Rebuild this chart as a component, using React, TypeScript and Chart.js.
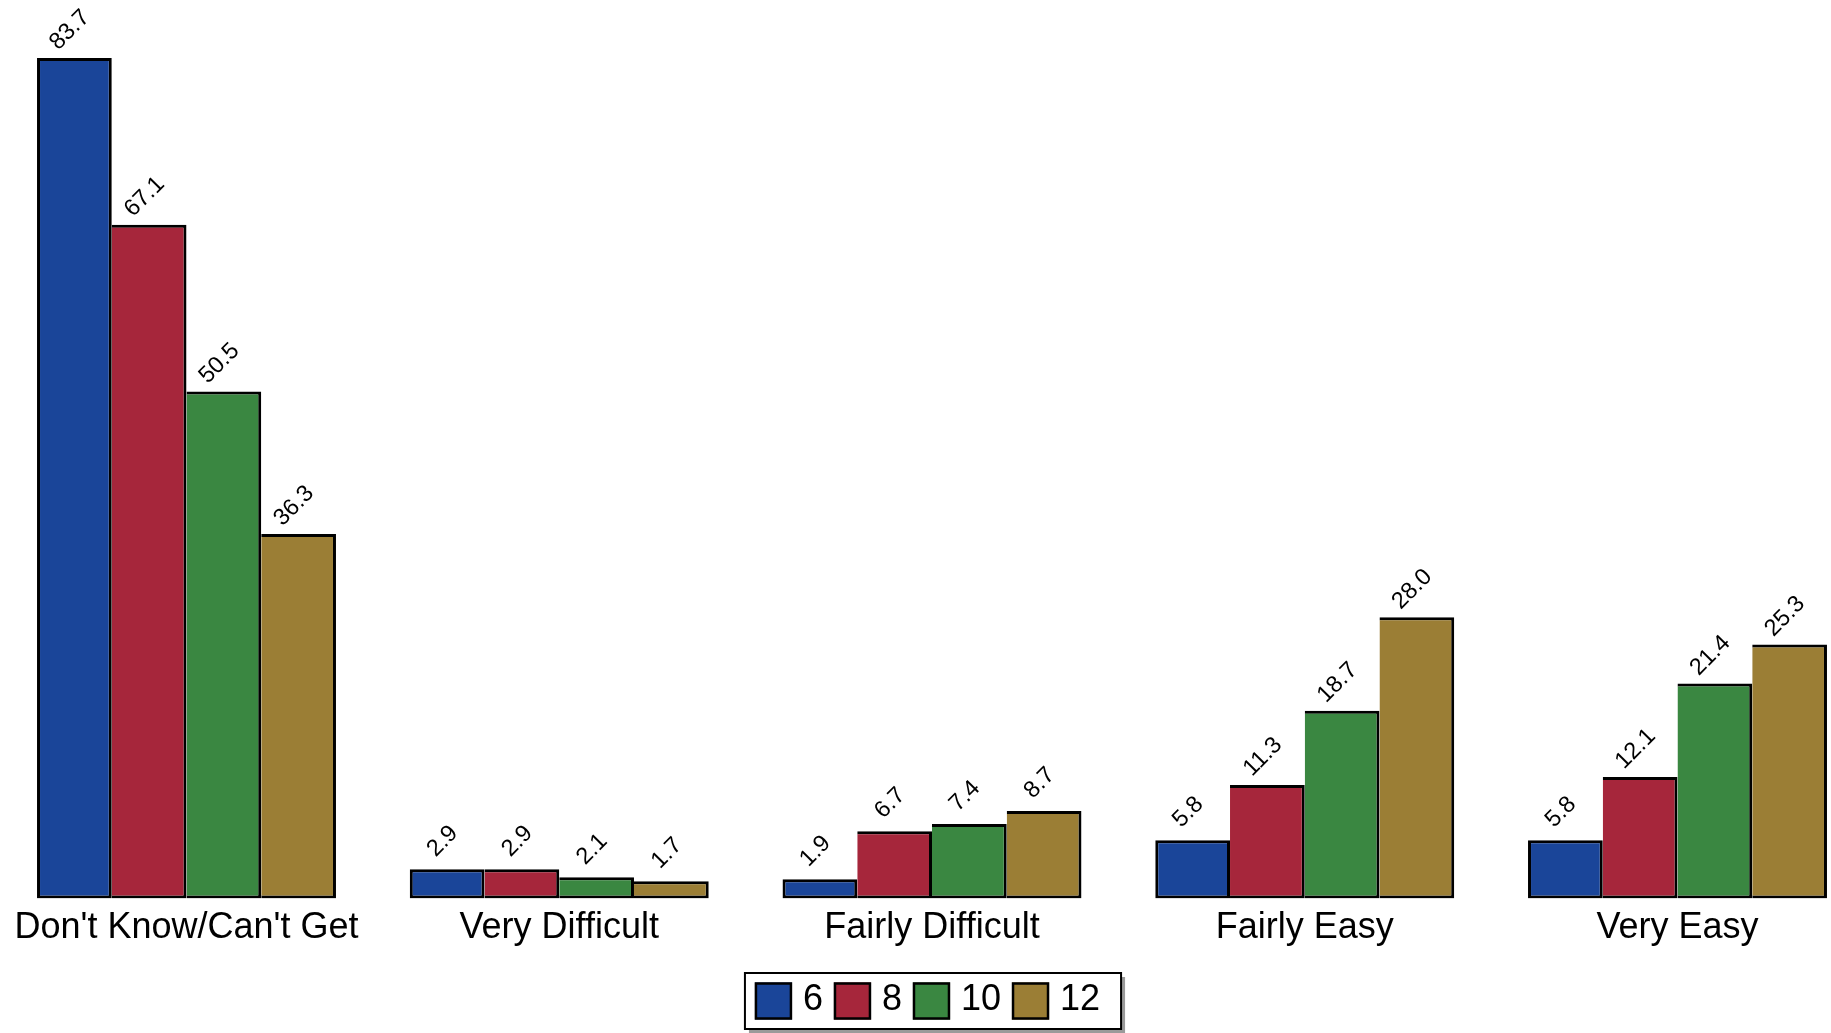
import React, { useEffect, useRef } from "react";
import { Chart, registerables } from "chart.js";

Chart.register(...registerables);

const categories = [
  "Don't Know/Can't Get",
  "Very Difficult",
  "Fairly Difficult",
  "Fairly Easy",
  "Very Easy",
];
const seriesLabels = ["6", "8", "10", "12"];
const grade6 = [83.7, 2.9, 1.9, 5.8, 5.8];
const grade8 = [67.1, 2.9, 6.7, 11.3, 12.1];
const grade10 = [50.5, 2.1, 7.4, 18.7, 21.4];
const grade12 = [36.3, 1.7, 8.7, 28.0, 25.3];
const seriesValues = [grade6, grade8, grade10, grade12];
const seriesColors = ["#1a4599", "#a6263b", "#3a8741", "#9b7e35"];

const FONT = "'Liberation Sans', Arial, Helvetica, sans-serif";
const W = 1831;
const H = 1033;

const valueLabelPlugin = {
  id: "valueLabels",
  afterDatasetsDraw(chart: any) {
    const ctx = chart.ctx;
    ctx.save();
    ctx.font = `23.5px ${FONT}`;
    ctx.fillStyle = "#000";
    ctx.textAlign = "center";
    ctx.textBaseline = "middle";
    chart.data.datasets.forEach((ds: any, i: number) => {
      const meta = chart.getDatasetMeta(i);
      meta.data.forEach((bar: any, j: number) => {
        const v = ds.data[j].y;
        ctx.save();
        ctx.translate(bar.x - 4.5, bar.y - 28);
        ctx.rotate(-Math.PI / 4);
        ctx.fillText(v.toFixed(1), 0, 0);
        ctx.restore();
      });
    });
    ctx.restore();
  },
};

const legendBoxPlugin = {
  id: "legendBox",
  afterDraw(chart: any) {
    const ctx = chart.ctx;
    const xs = chart.scales.x;
    const cx =
      (xs.getPixelForValue(0) + xs.getPixelForValue(categories.length - 1)) / 2 + 1;
    ctx.save();
    ctx.font = `36px ${FONT}`;
    const box = 37;
    const gap = 11;
    const items = chart.data.datasets.map((ds: any) => ({
      text: ds.label,
      color: ds.backgroundColor,
      w: ctx.measureText(ds.label).width,
    }));
    let content = 0;
    items.forEach((it: any, k: number) => {
      content += box + gap + it.w + (k < items.length - 1 ? gap : 0);
    });
    const fw = 10 + content + 21;
    const fh = 56;
    const left = cx - fw / 2;
    const top = chart.height - 60;
    ctx.fillStyle = "#9a9a9a";
    ctx.fillRect(left + 4, top + 4, fw, fh);
    ctx.fillStyle = "#fff";
    ctx.fillRect(left, top, fw, fh);
    ctx.lineWidth = 2;
    ctx.strokeStyle = "#000";
    ctx.strokeRect(left, top, fw, fh);
    let x = left + 10;
    const sy = top + 9.5;
    ctx.textAlign = "left";
    ctx.textBaseline = "middle";
    items.forEach((it: any) => {
      ctx.fillStyle = it.color;
      ctx.fillRect(x, sy, box, box);
      ctx.lineWidth = 2.5;
      ctx.strokeStyle = "#000";
      ctx.strokeRect(x + 1, sy + 1, box - 2, box - 2);
      x += box + gap;
      ctx.fillStyle = "#000";
      ctx.fillText(it.text, x, sy + box / 2 - 1);
      x += it.w + gap;
    });
    ctx.restore();
  },
};

export default function App() {
  const canvasRef = useRef<HTMLCanvasElement | null>(null);

  useEffect(() => {
    if (!canvasRef.current) return;
    const bw = 3;
    const chart = new Chart(canvasRef.current, {
      type: "bar",
      data: {
        datasets: seriesValues.map((vals, i) => ({
          label: seriesLabels[i],
          data: vals.map((v, j) => ({ x: j, y: v })),
          backgroundColor: seriesColors[i],
          borderColor: "#000",
          borderWidth:
            i === 0
              ? bw
              : { top: bw, right: bw, bottom: bw, left: 0 },
          borderSkipped: false,
          barPercentage: 1,
          categoryPercentage: 0.802,
        })),
      },
      options: {
        responsive: false,
        animation: false,
        events: [],
        layout: { padding: { left: 0, right: 0, top: 0, bottom: 75.4 } },
        plugins: {
          legend: { display: false },
          tooltip: { enabled: false },
        },
        scales: {
          x: {
            type: "linear",
            offset: false,
            bounds: "data",
            min: -186.5 / 372.75,
            max: -186.5 / 372.75 + W / 372.75,
            afterBuildTicks: (scale: any) => {
              scale.ticks = categories.map((_, i) => ({ value: i }));
            },
            afterFit: (scale: any) => {
              scale.paddingLeft = 0;
              scale.paddingRight = 0;
            },
            grid: { display: false, drawTicks: false, offset: false },
            border: { display: false },
            ticks: {
              autoSkip: false,
              maxRotation: 0,
              minRotation: 0,
              padding: 8,
              color: "#000",
              font: { family: FONT, size: 36 },
              callback: (value: any) => categories[Math.round(Number(value))] ?? "",
            },
          },
          y: {
            display: false,
            min: 0,
            max: 897 / 10.024,
          },
        },
      },
      plugins: [valueLabelPlugin, legendBoxPlugin],
    });
    return () => chart.destroy();
  }, []);

  return (
    <div
      style={{
        position: "fixed",
        left: 0,
        top: 0,
        width: W,
        height: H,
        background: "#fff",
      }}
    >
      <canvas ref={canvasRef} width={W} height={H} style={{ display: "block" }} />
    </div>
  );
}
